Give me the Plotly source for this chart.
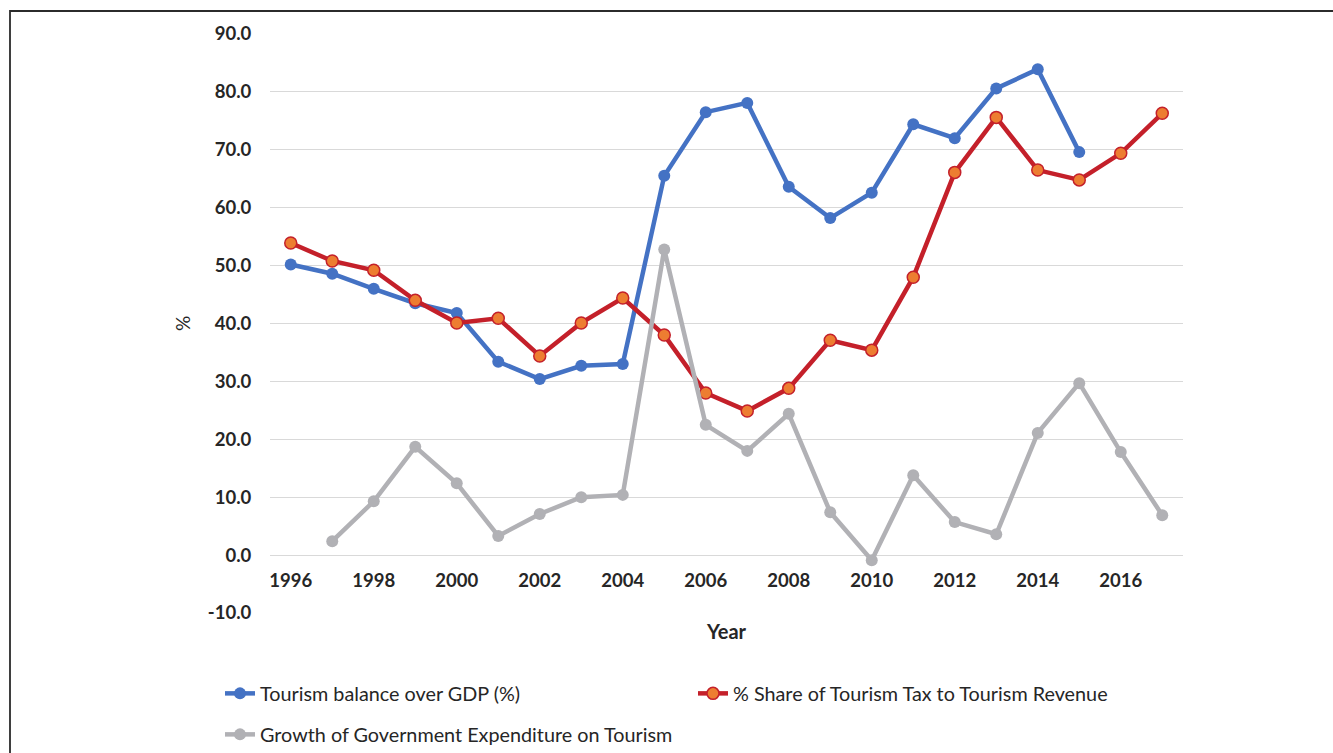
import plotly.graph_objects as go

# Series data
years = list(range(1996, 2018))
tourism_balance_gdp = [50.2, 48.6, 46.0, 43.5, 41.8, 33.4, 30.4, 32.7, 33.0, 65.5,
                       76.5, 78.1, 63.6, 58.2, 62.6, 74.4, 72.0, 80.6, 83.9, 69.6,
                       None, None]
tax_share_revenue = [53.9, 50.8, 49.2, 44.0, 40.1, 40.9, 34.4, 40.1, 44.4, 38.0,
                     28.0, 24.9, 28.8, 37.1, 35.4, 48.0, 66.1, 75.6, 66.5, 64.8,
                     69.4, 76.3]
gov_expenditure_growth = [None, 2.4, 9.3, 18.7, 12.4, 3.3, 7.1, 10.0, 10.4, 52.8,
                          22.5, 18.0, 24.4, 7.4, -0.9, 13.8, 5.7, 3.6, 21.1, 29.7,
                          17.8, 6.9]
x_tick_years = list(range(1996, 2018, 2))
y_ticks = list(range(-10, 100, 10))

W, H = 1333, 753
FONT = "Lato"
TEXT = "#262626"

# plot area in pixels
left_px, right_px, top_px, bottom_px = 270, 1183, 34, 613
y_min, y_max = -10, 90
ydom = [1 - bottom_px / H, 1 - top_px / H]
zero_pos = ydom[0] + (0 - y_min) / (y_max - y_min) * (ydom[1] - ydom[0])

fig = go.Figure()

fig.add_trace(go.Scatter(
    x=years, y=tourism_balance_gdp, name="Tourism balance over GDP (%)",
    mode="lines+markers", line=dict(color="#4472C4", width=4.5),
    marker=dict(size=12, color="#4472C4"), legend="legend",
))
fig.add_trace(go.Scatter(
    x=years, y=tax_share_revenue, name="% Share of Tourism Tax to Tourism Revenue",
    mode="lines+markers", line=dict(color="#C4202A", width=4.5),
    marker=dict(size=12, color="#ED7D31", line=dict(color="#C4202A", width=1.5)),
    legend="legend",
))
fig.add_trace(go.Scatter(
    x=years, y=gov_expenditure_growth, name="Growth of Government Expenditure on Tourism",
    mode="lines+markers", line=dict(color="#B1B1B5", width=4.5),
    marker=dict(size=12, color="#B1B1B5"), legend="legend2",
))

fig.update_layout(
    width=W, height=H,
    margin=dict(l=0, r=0, t=0, b=0, autoexpand=False),
    paper_bgcolor="white", plot_bgcolor="white",
    font=dict(family=FONT, color=TEXT),
    xaxis=dict(
        domain=[left_px / W, right_px / W],
        range=[1995.5, 2017.5],
        anchor="free", position=zero_pos,
        tickvals=x_tick_years, ticktext=[str(v) for v in x_tick_years],
        ticks="outside", ticklen=9, tickcolor="rgba(0,0,0,0)",
        tickfont=dict(family=FONT, size=18.5, color=TEXT, weight="bold"),
        showgrid=False, zeroline=False, showline=False,
        title=dict(text="Year", standoff=34,
                   font=dict(family=FONT, size=20, color=TEXT, weight="bold")),
    ),
    yaxis=dict(
        domain=ydom,
        range=[y_min, y_max],
        tickvals=y_ticks, ticktext=[f"{v:.1f}" for v in y_ticks],
        ticks="outside", ticklen=14, tickcolor="rgba(0,0,0,0)",
        tickfont=dict(family=FONT, size=18.5, color=TEXT, weight="bold"),
        showgrid=True, gridcolor="#D9D9D9", gridwidth=1.3,
        zeroline=False, showline=False,
        title=dict(text="%", standoff=12,
                   font=dict(family=FONT, size=19, color=TEXT)),
    ),
    legend=dict(
        orientation="h", x=220 / W, xanchor="left", y=1 - 674 / H, yanchor="top",
        entrywidth=428, font=dict(family=FONT, size=19.8, color=TEXT),
        bgcolor="rgba(0,0,0,0)", borderwidth=0,
    ),
    legend2=dict(
        orientation="h", x=220 / W, xanchor="left", y=1 - 715 / H, yanchor="top",
        font=dict(family=FONT, size=19.8, color=TEXT),
        bgcolor="rgba(0,0,0,0)", borderwidth=0,
    ),
    shapes=[
        dict(type="rect", xref="paper", yref="paper",
             x0=10 / W, x1=1.02, y0=-0.05, y1=1 - 11 / H,
             line=dict(color="#2B2B2B", width=1.8), fillcolor="rgba(0,0,0,0)",
             layer="below"),
    ],
)

fig.write_html("out.html")
